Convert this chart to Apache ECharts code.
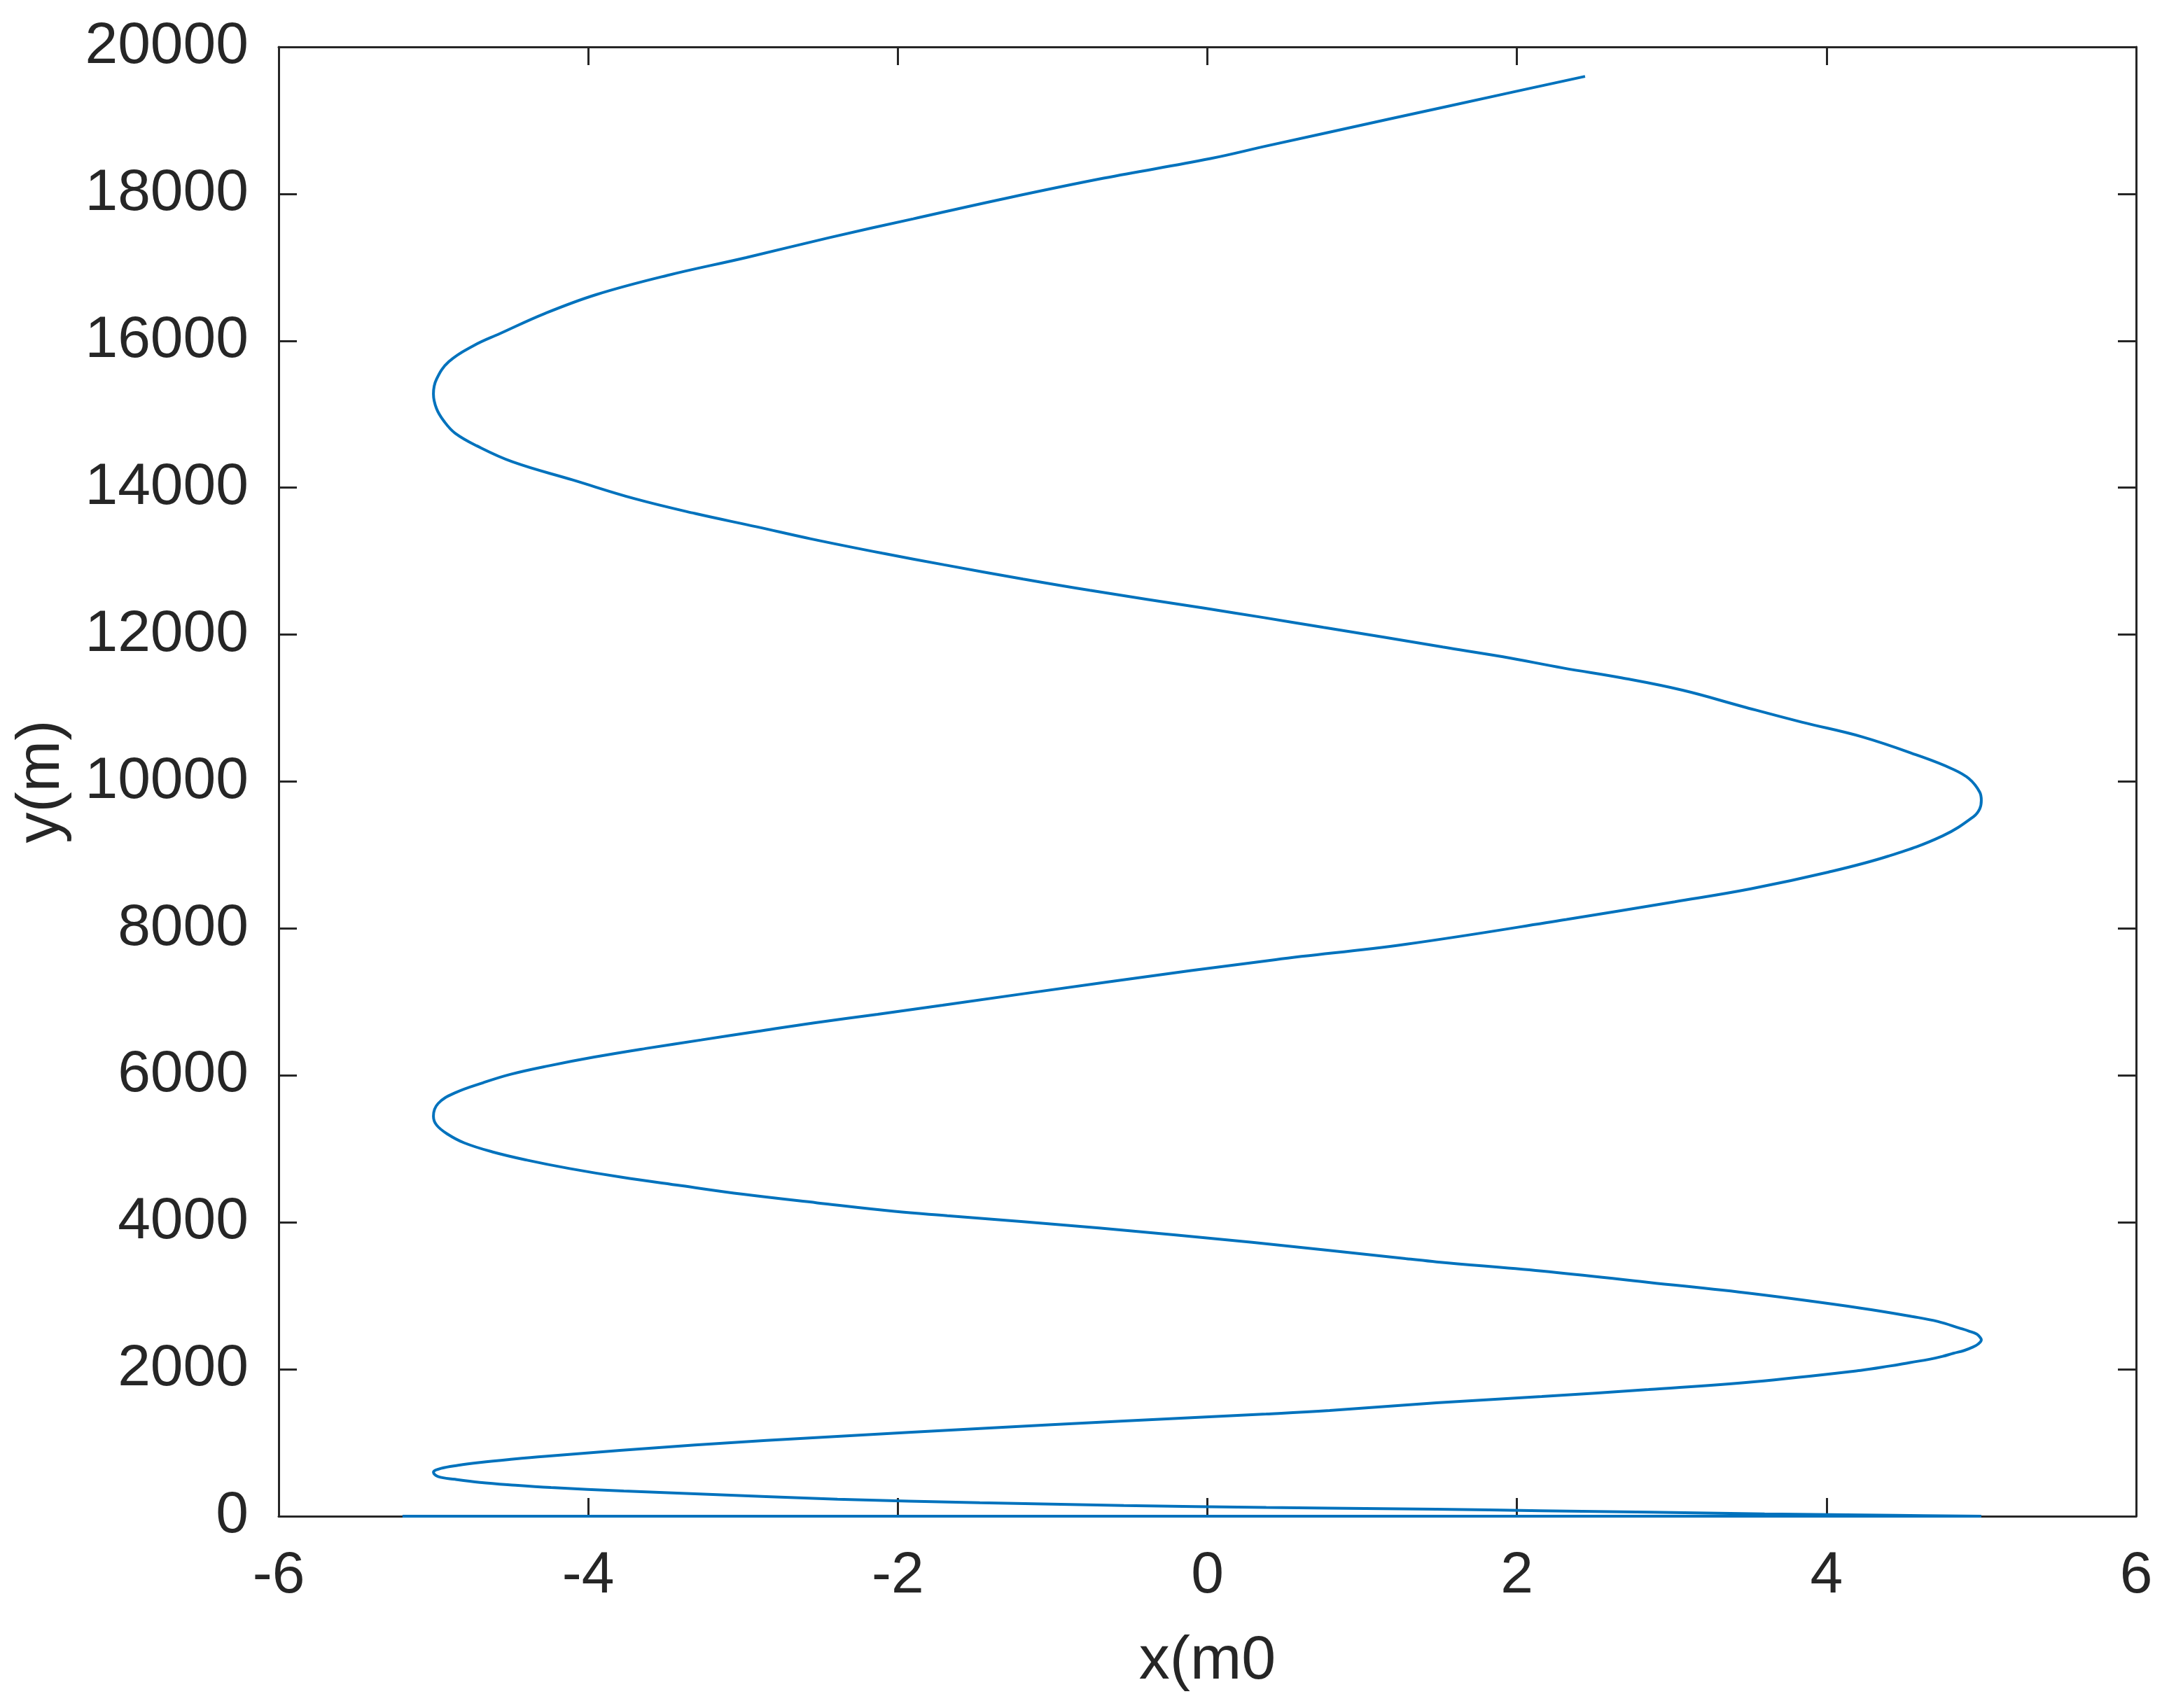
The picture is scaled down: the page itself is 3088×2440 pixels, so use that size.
<!DOCTYPE html>
<html>
<head>
<meta charset="utf-8">
<style>
  html, body { margin: 0; background: #fff; }
  #chart { width: 3088px; height: 2440px; }
</style>
<script src="https://cdn.jsdelivr.net/npm/echarts@6/dist/echarts.min.js"></script>
</head>
<body>
<div id="chart"></div>
<script>
// trajectory, [x (m), y (m)], in path order
const groundRun = [
  [-5.2, 0], [5.0, 0], [4.45, 12], [3.6, 32], [2.86, 55], [2.16, 75], [1.48, 95],
  [0.79, 110], [0.38, 118], [-0.54, 146], [-1.47, 184], [-2.39, 232], [-3.31, 305],
  [-3.77, 343], [-4.24, 391], [-4.47, 422], [-4.7, 460], [-4.86, 502], [-4.97, 540], [-5.0, 597]
]
const rise1 = [
  [-4.95, 651], [-4.84, 693], [-4.7, 731], [-4.51, 772], [-4.28, 815], [-3.31, 969],
  [-2.39, 1086], [-1.47, 1194], [-0.54, 1296], [0.38, 1391], [0.79, 1439], [1.48, 1544],
  [2.16, 1629], [2.85, 1725], [3.53, 1830], [4.22, 1985], [4.41, 2045], [4.54, 2092],
  [4.67, 2138], [4.75, 2176], [4.82, 2218], [4.89, 2256], [4.94, 2297], [4.98, 2344], [5.0, 2400]
]
const fall1 = [
  [4.99, 2440], [4.97, 2480], [4.92, 2520], [4.86, 2560], [4.72, 2650], [4.56, 2716],
  [4.22, 2833], [3.53, 3027], [2.85, 3183], [2.16, 3338], [1.48, 3462], [1.28, 3507],
  [0.29, 3727], [-0.7, 3923], [-1.68, 4090], [-2.02, 4149], [-2.52, 4265], [-3.0, 4382],
  [-3.4, 4499], [-3.79, 4616], [-4.12, 4732], [-4.4, 4849], [-4.62, 4960], [-4.8, 5081],
  [-4.91, 5203], [-4.98, 5325], [-5.0, 5446]
]
const rise2 = [
  [-4.97, 5617], [-4.86, 5763], [-4.68, 5900], [-4.5, 6016], [-4.25, 6133], [-3.96, 6250],
  [-3.63, 6366], [-3.27, 6483], [-2.91, 6599], [-2.54, 6716], [-2.13, 6832], [-1.71, 6956],
  [-0.65, 7270], [0.44, 7576], [1.28, 7785], [2.32, 8123], [3.02, 8364], [3.51, 8540],
  [4.01, 8766], [4.4, 8985], [4.75, 9260], [4.95, 9523], [4.99, 9630], [5.0, 9742]
]
const fall2 = [
  [4.99, 9855], [4.92, 10040], [4.81, 10174], [4.61, 10341], [4.23, 10609], [3.84, 10809],
  [3.46, 11020], [3.07, 11243], [2.68, 11410], [2.3, 11545], [1.91, 11698], [1.52, 11831],
  [1.14, 11966], [0.75, 12099], [0.36, 12233], [-0.02, 12360], [-0.76, 12603], [-1.19, 12756],
  [-1.7, 12950], [-2.1, 13108], [-2.56, 13303], [-2.91, 13467], [-3.31, 13649], [-3.7, 13850],
  [-4.1, 14105], [-4.49, 14353], [-4.72, 14570], [-4.86, 14742], [-4.93, 14900], [-4.98, 15077],
  [-5.0, 15277]
]
const rise3 = [
  [-4.98, 15477], [-4.9, 15716], [-4.74, 15934], [-4.57, 16098], [-4.28, 16371], [-3.95, 16627],
  [-3.49, 16889], [-2.98, 17132], [-2.44, 17405], [-1.9, 17660], [-1.3, 17940], [-0.67, 18213],
  [0.02, 18480], [0.39, 18655], [1.16, 19011], [1.93, 19365], [2.44, 19599]
]

const path = [].concat(groundRun, rise1, fall1, rise2, fall2, rise3)

const ink = '#262626'
const font = 'Liberation Sans, Arial, sans-serif'

const axisCommon = {
  axisLine: { show: true, onZero: false, lineStyle: { color: ink, width: 3 } },
  axisTick: { show: true, inside: true, length: 26, lineStyle: { color: ink, width: 3 } },
  splitLine: { show: false },
}

const chart = echarts.init(document.getElementById('chart'))
chart.setOption({
  animation: false,
  backgroundColor: '#fff',
  grid: { left: 398, top: 67, width: 2653, height: 2099, containLabel: false },
  xAxis: [
    {
      type: 'value', min: -6, max: 6, interval: 2, position: 'bottom',
      name: 'x(m0', nameLocation: 'middle', nameGap: 164,
      nameTextStyle: { color: ink, fontSize: 88, fontFamily: font },
      axisLabel: { color: ink, fontSize: 84, fontFamily: font, margin: 44, formatter: (v) => String(v) },
      ...axisCommon,
    },
    { type: 'value', min: -6, max: 6, interval: 2, position: 'top', axisLabel: { show: false }, ...axisCommon },
  ],
  yAxis: [
    {
      type: 'value', min: 0, max: 20000, interval: 2000, position: 'left',
      name: 'y(m)', nameLocation: 'middle', nameGap: 294,
      nameTextStyle: { color: ink, fontSize: 88, fontFamily: font },
      axisLabel: { color: ink, fontSize: 84, fontFamily: font, margin: 43, formatter: (v) => String(v) },
      ...axisCommon,
    },
    { type: 'value', min: 0, max: 20000, interval: 2000, position: 'right', axisLabel: { show: false }, ...axisCommon },
  ],
  series: [
    {
      type: 'line',
      data: path,
      showSymbol: false,
      smooth: 0.4,
      clip: false,
      lineStyle: { color: '#0072BD', width: 4 },
      z: 5,
    },
  ],
})
</script>
</body>
</html>
